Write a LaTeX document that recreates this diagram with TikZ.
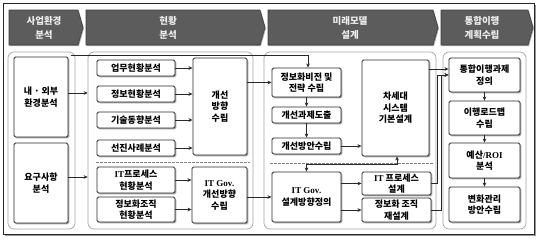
\documentclass[tikz,border=0pt]{standalone}
\usepackage{fontspec}
\newfontfamily\kr{Noto Sans CJK KR}
\newfontfamily\lat{Liberation Serif}
\usetikzlibrary{shadows,arrows.meta,calc}
\definecolor{hdr}{RGB}{92,92,92}
\definecolor{hdrdark}{RGB}{60,60,60}
\definecolor{hdrtxt}{RGB}{238,238,238}
\definecolor{pnlc}{RGB}{165,165,165}
\definecolor{lnc}{RGB}{40,40,40}
\tikzset{
  boxn/.style={draw=lnc, line width=0.9pt, fill=white, rounded corners=1.5pt, align=center,
    inner sep=1pt, font=\kr\bfseries\fontsize{9}{11.5}\selectfont,
    drop shadow={shadow xshift=1.3pt, shadow yshift=-1.3pt, opacity=0.35, fill=black}},
  pnl/.style={draw=pnlc, line width=0.7pt, rounded corners=6pt, fill=white, inner sep=0pt},
  hdrshape/.style={fill=hdr, draw=hdrdark, line width=0.6pt,
    drop shadow={shadow xshift=1pt, shadow yshift=-1pt, opacity=0.3, fill=black}},
  hdrtext/.style={text=hdrtxt, align=center, font=\kr\bfseries\fontsize{9.5}{14}\selectfont},
  arr/.style={draw=lnc, line width=0.8pt, -{Stealth[length=4pt,width=3.6pt]}},
  darr/.style={draw=lnc, line width=0.8pt, {Stealth[length=4pt,width=3.6pt]}-{Stealth[length=4pt,width=3.6pt]}},
  sep/.style={draw=gray, line width=0.6pt, dashed, dash pattern=on 2.5pt off 1.5pt},
}
\begin{document}
\begin{tikzpicture}[x=1pt,y=-1pt]
\useasboundingbox (0,0) rectangle (538,241);
% outer frame
\node[draw=lnc, line width=0.9pt, fill=white, minimum width=531pt, minimum height=231pt, inner sep=0pt,
  drop shadow={shadow xshift=1.5pt, shadow yshift=-1.5pt, opacity=0.4, fill=black}] (frame) at (268.5,118.5) {};
% headers
\filldraw[hdrshape] (9,10) -- (78,10) -- (83,27.5) -- (78,45) -- (9,45) -- cycle;
\filldraw[hdrshape] (86,10) -- (260,10) -- (265,27.5) -- (260,45) -- (86,45) -- cycle;
\filldraw[hdrshape] (268,10) -- (433,10) -- (438,27.5) -- (433,45) -- (268,45) -- cycle;
\filldraw[hdrshape] (441,10) -- (528,10) -- (533,27.5) -- (528,45) -- (441,45) -- cycle;
\node[hdrtext] (h1) at (44,27.5) {사업환경\\분석};
\node[hdrtext] (h2) at (168,27.5) {현황\\분석};
\node[hdrtext] (h3) at (350,27.5) {미래모델\\설계};
\node[hdrtext] (h4) at (482,27.5) {통합이행\\계획수립};
% panels
\node[pnl, minimum width=67pt, minimum height=177pt] (p1) at (41.5,140.5) {};
\node[pnl, minimum width=165pt, minimum height=177pt] (p2) at (170.5,140.5) {};
\node[pnl, minimum width=172pt, minimum height=177pt] (p3) at (350,140.5) {};
\node[pnl, minimum width=83pt, minimum height=177pt] (p4) at (484.5,140.5) {};
% separators
\draw[sep] (96,162) -- (250,162);
\draw[sep] (270,163) -- (433,163);
% column 1
\node[boxn, minimum width=54pt, minimum height=80pt] (ne) at (41,97) {내 · 외부\\환경분석};
\node[boxn, minimum width=54pt, minimum height=80pt] (yo) at (41,183) {요구사항\\분석};
% column 2
\node[boxn, minimum width=78pt, minimum height=16pt] (ub) at (136,68) {업무현황분석};
\node[boxn, minimum width=78pt, minimum height=16pt] (jb) at (136,94) {정보현황분석};
\node[boxn, minimum width=78pt, minimum height=16pt] (gi) at (136,120) {기술동향분석};
\node[boxn, minimum width=78pt, minimum height=16pt] (sj) at (136,148) {선진사례분석};
\node[boxn, minimum width=78pt, minimum height=26pt] (itp) at (136,180) {{\lat\bfseries IT}프로세스\\현황분석};
\node[boxn, minimum width=78pt, minimum height=25pt] (jo) at (136,209.5) {정보화조직\\현황분석};
\node[boxn, minimum width=54pt, minimum height=97pt] (gs) at (220,106.5) {개선\\방향\\수립};
\node[boxn, minimum width=55pt, minimum height=56pt] (itg) at (219.5,195) {{\lat\bfseries IT Gov.}\\개선방향\\수립};
% column 3
\node[boxn, minimum width=69pt, minimum height=29pt] (vis) at (306.5,82.5) {정보화비전 및\\전략 수립};
\node[boxn, minimum width=69pt, minimum height=16pt] (gd) at (306.5,115) {개선과제도출};
\node[boxn, minimum width=69pt, minimum height=16pt] (ba) at (306.5,146) {개선방안수립};
\node[boxn, minimum width=67pt, minimum height=96pt] (cs) at (395.5,108) {차세대\\시스템\\기본설계};
\node[boxn, minimum width=69pt, minimum height=50pt] (igd) at (306.5,197) {{\lat\bfseries IT Gov.}\\설계방향정의};
\node[boxn, minimum width=69pt, minimum height=23pt] (ipd) at (396.5,183.5) {{\lat\bfseries IT} 프로세스\\설계};
\node[boxn, minimum width=69pt, minimum height=24pt] (jjd) at (396.5,210) {정보화 조직\\재설계};
% column 4
\node[boxn, minimum width=71pt, minimum height=34pt] (ti) at (484.5,75) {통합이행과제\\정의};
\node[boxn, minimum width=71pt, minimum height=34pt] (rm) at (484.5,118) {이행로드맵\\수립};
\node[boxn, minimum width=71pt, minimum height=35pt] (roi) at (484.5,160.5) {예산{\lat\bfseries /ROI}\\분석};
\node[boxn, minimum width=71pt, minimum height=35pt] (bh) at (484.5,204.5) {변화관리\\방안수립};
% connectors
\draw[arr] ([yshift=4pt]ne.east) -- ([yshift=4pt]ne.east -| p2.west);
\draw[arr] ([yshift=6pt]yo.east) -- ([yshift=6pt]yo.east -| p2.west);
\coordinate (tl) at (71,55);
\draw[arr] (tl) -| ([xshift=1.5pt]vis.north);
\foreach \n in {ub,jb,gi,sj} \draw[arr] (\n.east) -- (\n.east -| gs.west);
\draw[arr] (itp.east) -- (itp.east -| itg.west);
\draw[arr] (jo.east) -- (jo.east -| itg.west);
\draw[arr] (gs.east |- vis.west) -- (vis.west);
\draw[arr] (itg.east |- igd.west) -- (igd.west);
\draw[arr] (vis.south) -- (gd.north);
\draw[arr] (gd.south) -- (ba.north);
\draw[arr] (ba.east) -- (ba.east -| cs.west);
\draw[arr] (igd.east |- ipd.west) -- (ipd.west);
\draw[arr] (igd.east |- jjd.west) -- (jjd.west);
\coordinate (mid) at (306.5,164.5);
\draw[darr] (igd.north) -- (mid) -| ([xshift=1.5pt]cs.south);
\draw[arr] ([yshift=6pt]cs.east |- ti.west) -- ([yshift=6pt]ti.west);
\draw[arr] (ipd.east) -| (437,75) -- (ti.west);
\draw[arr] (jjd.east) -| (441,75) -- (ti.west);
\draw[arr] (ti.south) -- (rm.north);
\draw[arr] (rm.south) -- (roi.north);
\draw[arr] (roi.south) -- (bh.north);
\end{tikzpicture}
\end{document}
